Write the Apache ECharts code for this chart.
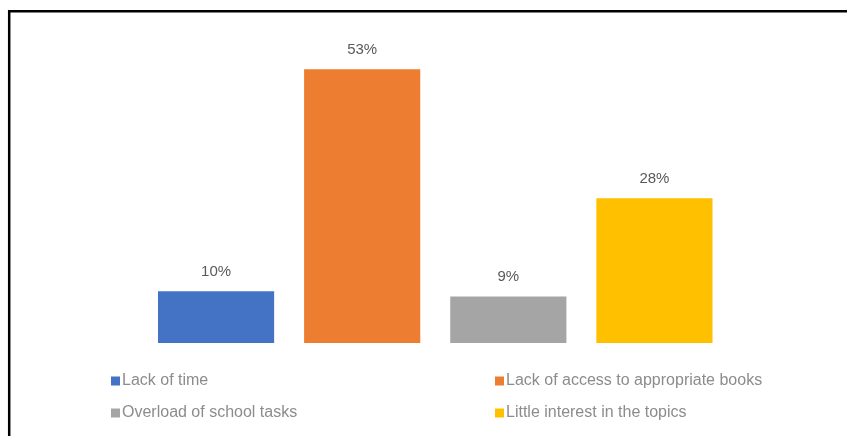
<!DOCTYPE html>
<html>
<head>
<meta charset="utf-8">
<script src="https://cdn.jsdelivr.net/npm/echarts@6/dist/echarts.min.js"></script>
<style>
html,body{margin:0;padding:0;background:#fff;}
#chart{width:847px;height:436px;}
</style>
</head>
<body>
<div id="chart"></div>
<script>
const categories = ['Lack of time', 'Lack of access to appropriate books', 'Overload of school tasks', 'Little interest in the topics'];
const values = [10, 53, 9, 28];
const colors = ['#4472C4', '#ED7D31', '#A5A5A5', '#FFC000'];

const chart = echarts.init(document.getElementById('chart'), null, {renderer: 'canvas'});

const series = categories.map((name, i) => ({
  name: name,
  type: 'bar',
  stack: 'total',
  barCategoryGap: '20.5%',
  itemStyle: {color: colors[i]},
  label: {
    show: true,
    position: 'top',
    distance: 12,
    formatter: '{c}%',
    color: '#595959',
    fontFamily: 'Liberation Sans, Arial, sans-serif',
    fontSize: 15
  },
  data: values.map((v, j) => j === i ? v : '-')
}));

const legendText = {
  color: '#8c8c8c',
  fontFamily: 'Liberation Sans, Arial, sans-serif',
  fontSize: 16,
  lineHeight: 16,
  padding: [0, 0, 0, -3]
};

chart.setOption({
  animation: false,
  backgroundColor: '#ffffff',
  grid: {left: 143, right: 119.5, top: 33, bottom: 93},
  xAxis: {
    type: 'category',
    data: categories,
    show: false
  },
  yAxis: {
    type: 'value',
    min: 0,
    max: 60,
    show: false
  },
  legend: [
    {
      orient: 'vertical',
      left: 106,
      top: 368,
      itemWidth: 9,
      itemHeight: 9,
      itemGap: 16,
      icon: 'rect',
      data: [categories[0], categories[2]],
      textStyle: legendText
    },
    {
      orient: 'vertical',
      left: 490,
      top: 368,
      itemWidth: 9,
      itemHeight: 9,
      itemGap: 16,
      icon: 'rect',
      data: [categories[1], categories[3]],
      textStyle: legendText
    }
  ],
  graphic: [
    {
      type: 'polyline',
      silent: true,
      shape: {points: [[9.2, 436], [9.2, 11.2], [847, 11.2]]},
      style: {stroke: '#000', lineWidth: 2.5, fill: null}
    }
  ],
  series: series
});
</script>
</body>
</html>
